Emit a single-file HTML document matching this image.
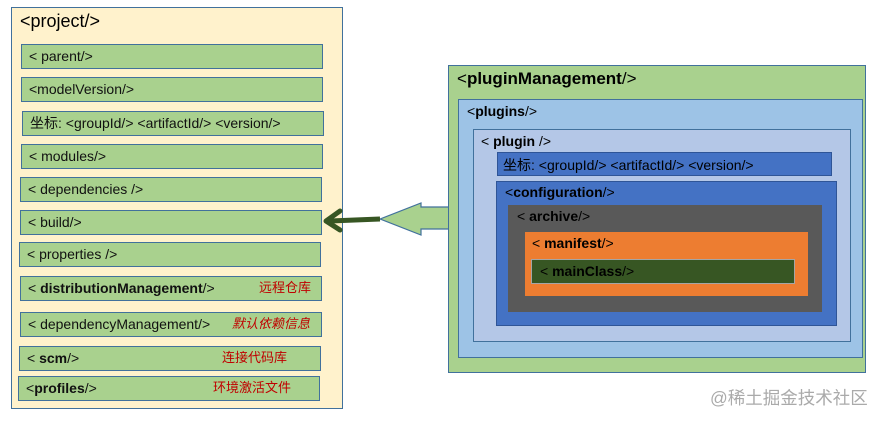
<!DOCTYPE html>
<html><head><meta charset="utf-8"><style>
body{margin:0;width:885px;height:421px;background:#fff;position:relative;overflow:hidden;font-family:"Liberation Sans","Noto Sans CJK SC",sans-serif;}
.b{position:absolute;box-sizing:border-box;}
.row{position:absolute;box-sizing:border-box;left:21px;width:302px;height:25px;background:#a9d18e;border:1.5px solid #41719c;font-size:14px;line-height:22px;padding-left:7px;color:#111;white-space:nowrap;}
.r{position:absolute;color:#c00000;font-size:13px;}
.t{position:absolute;white-space:nowrap;font-size:14px;}
</style></head><body>
<div class="b" style="left:11px;top:7px;width:332px;height:402px;background:#fff2cc;border:1.5px solid #41719c;"></div>
<div class="t" style="left:20px;top:11px;font-size:18px;">&lt;project/&gt;</div>
<div class="row" style="top:44px">&lt; parent/&gt;</div>
<div class="row" style="top:77px">&lt;modelVersion/&gt;</div>
<div class="row" style="top:111px;left:22px">坐标: &lt;groupId/&gt; &lt;artifactId/&gt; &lt;version/&gt;</div>
<div class="row" style="top:144px">&lt; modules/&gt;</div>
<div class="row" style="top:177px;left:20px">&lt; dependencies /&gt;</div>
<div class="row" style="top:210px;left:20px">&lt; build/&gt;</div>
<div class="row" style="top:242px;left:19px">&lt; properties /&gt;</div>
<div class="row" style="top:276px;left:20px">&lt; <b>distributionManagement</b>/&gt;<span class="r" style="left:238px;top:0">远程仓库</span></div>
<div class="row" style="top:312px;left:20px">&lt; dependencyManagement/&gt; <span class="r" style="left:211px;top:0;font-style:italic">默认依赖信息</span></div>
<div class="row" style="top:346px;left:19px">&lt; <b>scm</b>/&gt;<span class="r" style="left:202px;top:0">连接代码库</span></div>
<div class="row" style="top:376px;left:18px">&lt;<b>profiles</b>/&gt;<span class="r" style="left:194px;top:0">环境激活文件</span></div>

<svg class="b" style="left:0;top:0" width="885" height="421">
<polygon points="380,219 421,203 421,207 450,207 450,229 421,229 421,235" fill="#a9d18e" stroke="#41719c" stroke-width="1.2"/>
<line x1="380" y1="219" x2="330" y2="221" stroke="#375623" stroke-width="5"/>
<polyline points="340,211 326,221 340,230" fill="none" stroke="#375623" stroke-width="5" stroke-linecap="round" stroke-linejoin="round"/>
</svg>

<div class="b" style="left:448px;top:65px;width:418px;height:308px;background:#a9d18e;border:1.5px solid #41719c;"></div>
<div class="t" style="left:457px;top:69px;font-size:17px;">&lt;<b>pluginManagement</b>/&gt;</div>
<div class="b" style="left:458px;top:99px;width:405px;height:259px;background:#9dc3e6;border:1.5px solid #41719c;"></div>
<div class="t" style="left:467px;top:103px;">&lt;<b>plugins</b>/&gt;</div>
<div class="b" style="left:473px;top:129px;width:378px;height:213px;background:#b4c7e7;border:1.5px solid #41719c;"></div>
<div class="t" style="left:481px;top:133px;">&lt; <b>plugin</b> /&gt;</div>
<div class="b" style="left:497px;top:152px;width:335px;height:24px;background:#4472c4;border:1px solid #2f5597;"></div>
<div class="t" style="left:503px;top:155px;">坐标: &lt;groupId/&gt; &lt;artifactId/&gt; &lt;version/&gt;</div>
<div class="b" style="left:496px;top:181px;width:341px;height:145px;background:#4472c4;border:1.5px solid #2f5597;"></div>
<div class="t" style="left:505px;top:184px;">&lt;<b>configuration</b>/&gt;</div>
<div class="b" style="left:508px;top:205px;width:314px;height:107px;background:#595959;"></div>
<div class="t" style="left:517px;top:208px;">&lt; <b>archive</b>/&gt;</div>
<div class="b" style="left:525px;top:232px;width:283px;height:64px;background:#ed7d31;"></div>
<div class="t" style="left:532px;top:235px;">&lt; <b>manifest</b>/&gt;</div>
<div class="b" style="left:531px;top:259px;width:264px;height:25px;background:#375623;border:1px solid #a5a5a5;"></div>
<div class="t" style="left:540px;top:263px;">&lt; <b>mainClass</b>/&gt;</div>

<div class="t" style="left:710px;top:385px;font-size:17.5px;color:#aaa;">@稀土掘金技术社区</div>
</body></html>
